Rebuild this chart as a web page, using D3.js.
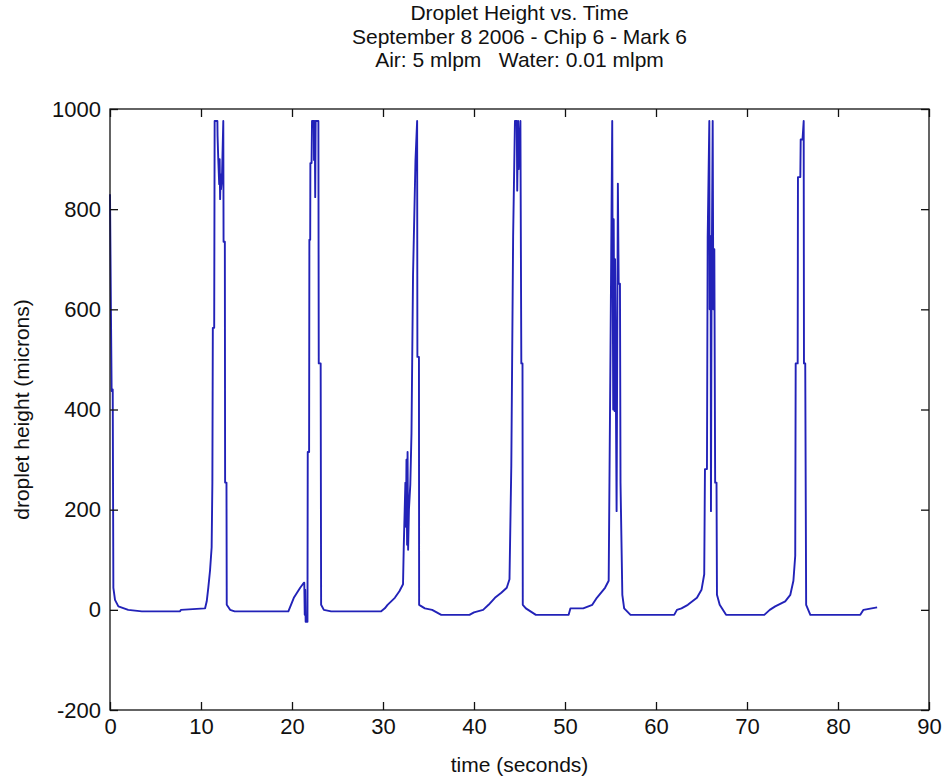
<!DOCTYPE html>
<html>
<head>
<meta charset="utf-8">
<script src="https://cdn.jsdelivr.net/npm/d3@7"></script>
<style>
  body { margin: 0; background: #fff; }
  text { font-family: "Liberation Sans", Arial, sans-serif; fill: #111; white-space: pre; }
</style>
</head>
<body>
<div id="chart"></div>
<script>
// title lines
const titleLines = [
    "Droplet Height vs. Time",
    "September 8 2006 - Chip 6 - Mark 6",
    "Air: 5 mlpm   Water: 0.01 mlpm"
];

const xTicks = [0, 10, 20, 30, 40, 50, 60, 70, 80, 90];
const yTicks = [-200, 0, 200, 400, 600, 800, 1000];

// time (s)
const timeSec = [
    0.0, 0.1, 0.18, 0.3, 0.37, 0.55, 0.92, 2.0, 3.5, 7.7, 7.8, 10.4,
    10.45, 10.63, 10.8, 10.99, 11.17, 11.25, 11.3, 11.45, 11.5, 11.8, 11.82, 11.9, 12.0, 12.05, 12.1, 12.15, 12.2, 12.3, 12.45, 12.48, 12.62, 12.65, 12.8, 12.83, 13.2, 13.7,
    19.6, 20.2, 20.9, 21.3, 21.35, 21.4, 21.45, 21.5, 21.7, 21.73, 21.88, 21.91, 22.0, 22.02, 22.15, 22.2, 22.4, 22.42, 22.5, 22.55, 22.6, 22.9, 22.94, 23.15, 23.2, 23.5, 24.3,
    29.8, 30.2, 30.5, 31.3, 31.8, 32.2, 32.28, 32.46, 32.52, 32.58, 32.65, 32.7, 32.76, 32.85, 33.0, 33.13, 33.3, 33.57, 33.75, 33.78, 33.95, 33.97, 34.6, 35.4, 36.4,
    39.5, 40.0, 41.0, 41.6, 42.3, 43.0, 43.6, 43.9, 44.1, 44.3, 44.5, 44.7, 44.75, 44.85, 44.9, 45.1, 45.2, 45.33, 45.36, 45.7, 46.8,
    50.4, 50.6, 52.0, 53.0, 53.5, 54.4, 54.8, 55.0, 55.19, 55.22, 55.3, 55.35, 55.45, 55.5, 55.67, 55.81, 55.9, 56.04, 56.1, 56.3, 56.5, 57.2,
    62.0, 62.3, 62.8, 63.5, 64.5, 65.0, 65.3, 65.38, 65.6, 65.68, 65.86, 65.9, 66.0, 66.04, 66.1, 66.23, 66.3, 66.41, 66.5, 66.65, 66.7, 67.0, 67.7,
    71.9, 72.5, 73.1, 74.2, 74.76, 75.1, 75.3, 75.35, 75.57, 75.6, 75.86, 75.9, 76.1, 76.23, 76.26, 76.4, 76.5, 76.96,
    82.45, 82.8, 83.7, 84.3
];

// droplet height (microns) at each time
const heightMicrons = [
    830, 600, 437, 440, 44, 20, 7, 0, -3, -3, 0, 3,
    3, 17, 44, 78, 125, 254, 563, 563, 976, 976, 946, 898, 850, 900, 820, 870, 840, 860, 976, 735, 735, 254, 254, 10, 0, -3,
    -3, 24, 44, 54, 54, -10, 40, -24, -24, 315, 315, 739, 739, 892, 892, 976, 976, 898, 976, 824, 976, 976, 492, 492, 10, 0, -3,
    -3, 3, 10, 24, 37, 51, 125, 254, 166, 300, 130, 315, 120, 200, 250, 352, 668, 898, 976, 505, 505, 10, 3, 0, -10,
    -10, -5, 0, 10, 24, 34, 44, 61, 288, 746, 976, 976, 837, 976, 880, 976, 492, 492, 10, 3, -10,
    -10, 3, 3, 10, 24, 44, 58, 519, 976, 780, 400, 780, 397, 700, 197, 851, 651, 651, 254, 30, 3, -10,
    -10, 0, 3, 10, 24, 40, 71, 281, 281, 746, 976, 600, 746, 197, 600, 976, 600, 720, 254, 254, 30, 10, -10,
    -10, 0, 7, 17, 30, 58, 108, 492, 492, 864, 864, 939, 939, 976, 492, 492, 10, -10,
    -10, 0, 3, 5
];

const width = 945, height = 780;
const margin = { top: 109, right: 16, bottom: 70, left: 110 };
const innerW = width - margin.left - margin.right;
const innerH = height - margin.top - margin.bottom;

const svg = d3.select("#chart").append("svg")
    .attr("width", width)
    .attr("height", height);

const g = svg.append("g")
    .attr("transform", `translate(${margin.left},${margin.top})`);

const x = d3.scaleLinear().domain([0, 90]).range([0, innerW]);
const y = d3.scaleLinear().domain([-200, 1000]).range([innerH, 0]);

const data = timeSec.map((t, i) => ({ t, h: heightMicrons[i] }));

// trace
const line = d3.line().x(d => x(d.t)).y(d => y(d.h));
g.append("path")
    .datum(data)
    .attr("fill", "none")
    .attr("stroke", "#2222b8")
    .attr("stroke-width", 1.9)
    .attr("stroke-linejoin", "round")
    .attr("d", line);

// axes, ticks pointing inward like matlab
const tickLen = 8;
const fmt = d => String(d);
const xAxisG = g.append("g")
    .attr("transform", `translate(0,${innerH})`)
    .call(d3.axisBottom(x).tickValues(xTicks).tickFormat(fmt).tickSizeInner(-tickLen).tickSizeOuter(0).tickPadding(8));
const yAxisG = g.append("g")
    .call(d3.axisLeft(y).tickValues(yTicks).tickFormat(fmt).tickSizeInner(-tickLen).tickSizeOuter(0).tickPadding(9));
g.append("g")
    .call(d3.axisTop(x).tickValues(xTicks).tickSizeInner(-tickLen).tickSizeOuter(0).tickFormat(""));
g.append("g")
    .attr("transform", `translate(${innerW},0)`)
    .call(d3.axisRight(y).tickValues(yTicks).tickSizeInner(-tickLen).tickSizeOuter(0).tickFormat(""));

g.selectAll(".domain").remove();
g.selectAll(".tick line").attr("stroke", "#111").attr("stroke-width", 1.3);
xAxisG.selectAll("text").style("font-size", "22px").attr("fill", "#111");
yAxisG.selectAll("text").style("font-size", "22px").attr("fill", "#111");

// box
g.append("rect")
    .attr("width", innerW)
    .attr("height", innerH)
    .attr("fill", "none")
    .attr("stroke", "#111")
    .attr("stroke-width", 1.3);

// titles
svg.selectAll(".title")
    .data(titleLines)
    .join("text")
    .attr("class", "title")
    .attr("x", margin.left + innerW / 2)
    .attr("y", (d, i) => 20 + i * 23.5)
    .attr("text-anchor", "middle")
    .style("font-size", "21px")
    .text(d => d);

svg.append("text")
    .attr("x", margin.left + innerW / 2)
    .attr("y", 772)
    .attr("text-anchor", "middle")
    .style("font-size", "21px")
    .text("time (seconds)");

svg.append("text")
    .attr("transform", `translate(29,${margin.top + innerH / 2}) rotate(-90)`)
    .attr("text-anchor", "middle")
    .style("font-size", "21px")
    .text("droplet height (microns)");
</script>
</body>
</html>
